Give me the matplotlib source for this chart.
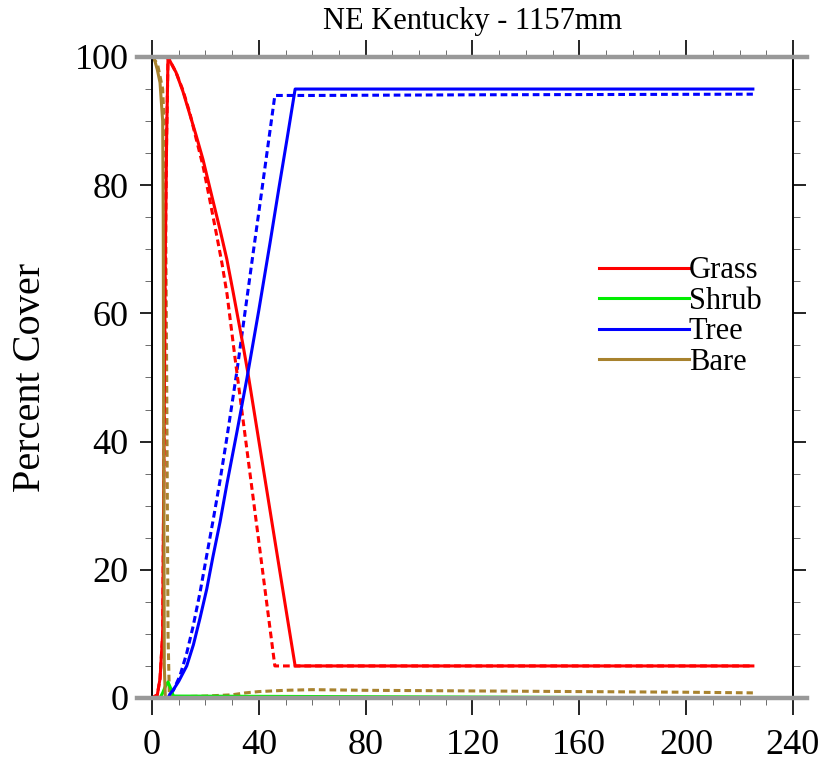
import matplotlib.pyplot as plt
from matplotlib.ticker import MultipleLocator

# years and percent cover, solid = one run, dashed = the other
grass_x = [0, 2, 3, 4, 4.5, 5, 5.5, 6, 6.7, 9, 11.6, 14.2, 16.5, 19.1, 22, 25.5, 28, 30.3, 34.1, 36, 40.4, 45.3, 50.6, 53.6, 225]
grass_y = [0, 0.5, 3, 10, 40, 70, 88, 100, 99.4, 97.6, 94.6, 91, 87.8, 84, 79, 73, 68.5, 63.5, 55, 50.5, 39.1, 26.4, 12.7, 5, 5]
grass_d_x = [0, 2, 3, 4, 4.5, 5, 5.5, 6, 6.7, 9, 11.6, 14.2, 16.5, 19.1, 21.5, 24.3, 26.2, 28.1, 31.1, 33.5, 36.7, 40.4, 44.2, 46, 225]
grass_d_y = [0, 0.5, 3, 10, 40, 70, 88, 100, 99.4, 97.6, 94.8, 91.2, 87.3, 83, 78, 72, 67.8, 63, 53, 45.3, 35, 23.1, 10.8, 5, 5]

shrub_x = [0, 3, 4, 5, 6, 7, 8, 225]
shrub_y = [0, 0, 0.8, 1.8, 2.5, 1.5, 0.3, 0]

tree_x = [0, 6, 6.7, 8, 10, 13, 15.5, 18, 20.5, 22.8, 25.5, 28.1, 31.8, 35.6, 40, 44.2, 47.5, 50.6, 53.6, 225]
tree_y = [0, 0, 0.6, 1.3, 2.6, 5, 8.3, 12.5, 17, 22, 27.5, 33.5, 41.5, 50, 60.5, 71, 79.5, 87.3, 95, 95]
tree_d_x = [0, 6, 8, 10.5, 13, 15.4, 18, 20.6, 23, 25.5, 28, 30, 31.8, 34.8, 37.8, 40.5, 43, 46, 60, 120, 225]
tree_d_y = [0, 0, 1.2, 3.5, 7, 11.2, 16.5, 22.5, 28, 34, 40.5, 46, 51, 60.1, 69.2, 77.3, 84.9, 94, 94, 94.1, 94.2]

bare_x = [0, 1, 2, 3, 4, 4.2, 4.4, 4.6, 5, 225]
bare_y = [100, 99.5, 98, 96, 90, 75, 40, 5, 0, 0]
bare_d_x = [0, 2, 4, 5, 5.5, 6, 6.5, 10, 20, 30, 35, 40, 50, 60, 80, 120, 160, 200, 225]
bare_d_y = [100, 99, 95, 85, 50, 10, 0.3, 0.2, 0.3, 0.5, 0.8, 1.0, 1.2, 1.3, 1.2, 1.1, 1.0, 0.9, 0.8]

plt.rcParams['font.family'] = ['Liberation Serif', 'DejaVu Serif']

fig = plt.figure(figsize=(8.27, 7.64), dpi=100)
ax = fig.add_axes([0.1838, 0.0864, 0.775, 0.839])

red = '#ff0000'
green = '#00ee00'
blue = '#0000ff'
brown = '#a8822e'
dash = (0, (2.2, 1.3))
lw = 2.2

ax.plot(bare_d_x, bare_d_y, color=brown, lw=lw, ls=dash)
ax.plot(tree_d_x, tree_d_y, color=blue, lw=lw, ls=dash)
ax.plot(grass_d_x, grass_d_y, color=red, lw=lw, ls=dash)
ax.plot(grass_x, grass_y, color=red, lw=lw, label='Grass')
ax.plot(shrub_x, shrub_y, color=green, lw=lw, label='Shrub')
ax.plot(tree_x, tree_y, color=blue, lw=lw, label='Tree')
ax.plot(bare_x, bare_y, color=brown, lw=lw, label='Bare')

ax.set_xlim(0, 240)
ax.set_ylim(0, 100)

# thick gray lines at 0 and 100, a little wider than the frame
for yy in (0, 100):
    ax.plot([-5.6, 245.3], [yy, yy], color='#999999', lw=3.2, clip_on=False, zorder=5)
ax.spines['top'].set_visible(False)
ax.spines['bottom'].set_visible(False)
ax.spines['left'].set_linewidth(1.4)
ax.spines['right'].set_linewidth(1.4)

ax.xaxis.set_major_locator(MultipleLocator(40))
ax.xaxis.set_minor_locator(MultipleLocator(10))
ax.yaxis.set_major_locator(MultipleLocator(20))
ax.yaxis.set_minor_locator(MultipleLocator(5))
ax.tick_params(which='both', direction='out', top=True, right=True, labelsize=26)
ax.tick_params(axis='x', which='major', length=12, width=1.2, pad=10)
ax.tick_params(axis='y', which='major', length=9, width=1.2, pad=8)
ax.tick_params(which='minor', length=5, width=0.6, color='#555555')

ax.set_ylabel('Percent Cover', fontsize=29, labelpad=18)
ax.set_title('NE Kentucky - 1157mm', fontsize=22, pad=20)

ax.legend(loc='upper left', bbox_to_anchor=(0.673, 0.713), frameon=False, fontsize=22,
          handlelength=2.95, handletextpad=0.0, labelspacing=0.05, borderpad=0)

fig.savefig('out.png', dpi=100)
